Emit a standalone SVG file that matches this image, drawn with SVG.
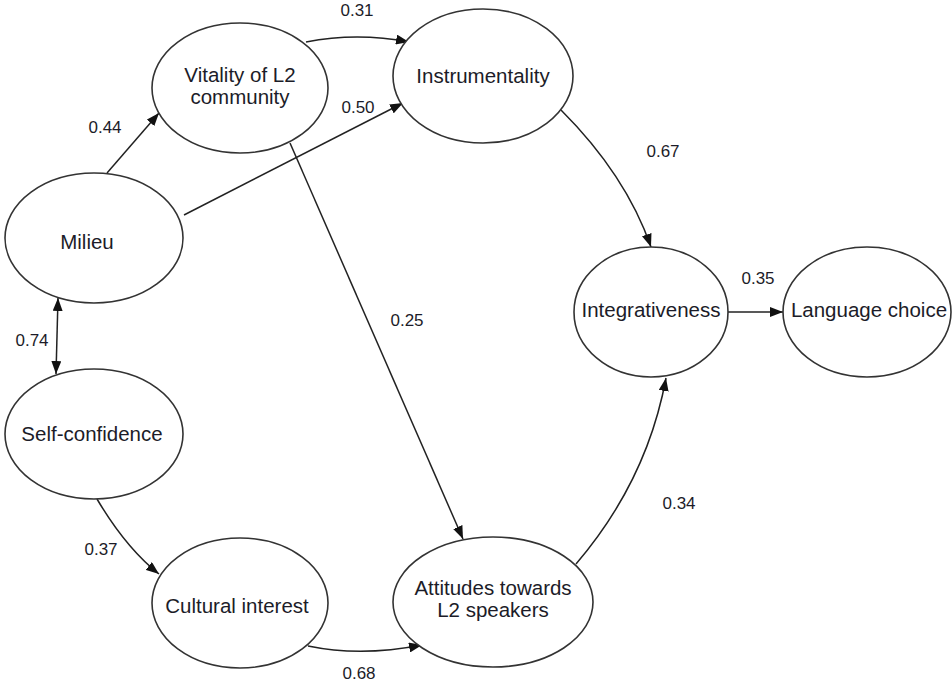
<svg xmlns="http://www.w3.org/2000/svg" width="952" height="684" viewBox="0 0 952 684">
<defs>
<marker id="arr" viewBox="0 0 13 10" refX="13" refY="5" markerWidth="13" markerHeight="10" markerUnits="userSpaceOnUse" orient="auto-start-reverse">
<path d="M0,0 L13,5 L0,10 z" fill="#111"/>
</marker>
<style>
.node ellipse{fill:#fff;stroke:#333;stroke-width:1.6}
.node text{font-family:"Liberation Sans",Arial,sans-serif;font-size:20.5px;fill:#1c1c28;text-anchor:middle}
.edge{fill:none;stroke:#222;stroke-width:1.5;marker-end:url(#arr)}
.lbl{font-family:"Liberation Sans",Arial,sans-serif;font-size:17px;fill:#1c1c28;text-anchor:middle}
</style>
</defs>
<rect width="952" height="684" fill="#fff"/>
<g id="connectors">
<path class="edge" d="M306,42 Q357,32 409,42"/>
<path class="edge" d="M107,173 L159,113"/>
<path class="edge" d="M184,215 L403,103"/>
<path class="edge" d="M290,143 L463,539"/>
<path class="edge" d="M561,110 Q626,175 651,247"/>
<path class="edge" d="M728,312 L783,312"/>
<path class="edge" d="M576,564 Q647,481 666,378"/>
<path class="edge" d="M58,298 L56,374" marker-start="url(#arr)"/>
<path class="edge" d="M97,499 Q126,548 159,574"/>
<path class="edge" d="M308,646 Q361,657 422,645"/>
<text class="lbl" x="357" y="16">0.31</text>
<text class="lbl" x="358" y="113">0.50</text>
<text class="lbl" x="105" y="133">0.44</text>
<text class="lbl" x="32" y="346">0.74</text>
<text class="lbl" x="407" y="326">0.25</text>
<text class="lbl" x="663" y="157">0.67</text>
<text class="lbl" x="758" y="284">0.35</text>
<text class="lbl" x="679" y="509">0.34</text>
<text class="lbl" x="101" y="555">0.37</text>
<text class="lbl" x="359" y="679">0.68</text>
</g>
<g id="vitality" class="node"><ellipse cx="240" cy="88" rx="88" ry="65"/><text x="240" y="82">Vitality of L2</text><text x="240" y="104">community</text></g>
<g id="instrumentality" class="node"><ellipse cx="483" cy="76" rx="90" ry="67"/><text x="483" y="83">Instrumentality</text></g>
<g id="milieu" class="node"><ellipse cx="94" cy="238" rx="89" ry="65"/><text x="87" y="249">Milieu</text></g>
<g id="integrativeness" class="node"><ellipse cx="651" cy="312" rx="77" ry="65"/><text x="651" y="317">Integrativeness</text></g>
<g id="language-choice" class="node"><ellipse cx="867" cy="312" rx="84" ry="65"/><text x="869" y="317">Language choice</text></g>
<g id="self-confidence" class="node"><ellipse cx="94" cy="434" rx="89" ry="65"/><text x="92" y="441">Self-confidence</text></g>
<g id="cultural-interest" class="node"><ellipse cx="240" cy="603" rx="88" ry="65"/><text x="237" y="613">Cultural interest</text></g>
<g id="attitudes" class="node"><ellipse cx="493" cy="602" rx="100" ry="65"/><text x="493" y="595">Attitudes towards</text><text x="493" y="617">L2 speakers</text></g>
</svg>
